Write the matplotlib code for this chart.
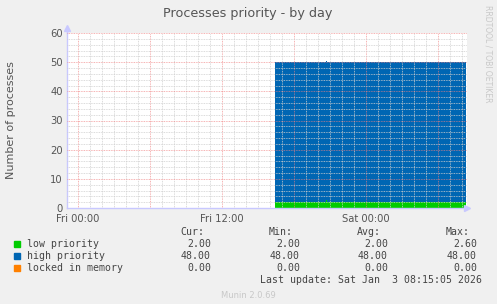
"""Munin: Processes priority - by day"""

import matplotlib
matplotlib.use("Agg")
import matplotlib.pyplot as plt
from matplotlib.patches import Rectangle
from matplotlib.ticker import MultipleLocator

W, H = 497, 304

# data (hours since Fri 00:00)
hours = [16.4, 20.7, 20.78, 32.35]
low_priority = [2.0, 2.6, 2.0, 2.0]
high_priority = [48.0, 47.7, 48.0, 48.0]
locked_memory = [0.0, 0.0, 0.0, 0.0]

series_names = ["low priority", "high priority", "locked in memory"]
series_colors = ["#00CC00", "#0066B3", "#FF8000"]
cur_vals = ["2.00", "48.00", "0.00"]
min_vals = ["2.00", "48.00", "0.00"]
avg_vals = ["2.00", "48.00", "0.00"]
max_vals = ["2.60", "48.00", "0.00"]

xtick_labels = ["Fri 00:00", "", "Fri 12:00", "", "Sat 00:00", ""]


def fx(px):
    return px / W


def fy(py):
    return 1 - py / H


fig = plt.figure(figsize=(W / 100, H / 100), dpi=100, facecolor="#F0F0F0")

# plot area in pixels: x 67..467, y 33..208
ax = fig.add_axes([fx(67), fy(208), 400 / W, 175 / H])
ax.set_facecolor("white")

stack2 = [a + b for a, b in zip(low_priority, high_priority)]
stack3 = [a + b for a, b in zip(stack2, locked_memory)]
ax.fill_between(hours, 0, low_priority, step="post", color=series_colors[0], lw=0)
ax.fill_between(hours, low_priority, stack2, step="post", color=series_colors[1], lw=0)
ax.fill_between(hours, stack2, stack3, step="post", color=series_colors[2], lw=0)

ax.set_xlim(-0.92, 32.42)
ax.set_ylim(0, 60)

ax.xaxis.set_major_locator(MultipleLocator(6))
ax.xaxis.set_minor_locator(MultipleLocator(1))
ax.yaxis.set_major_locator(MultipleLocator(10))
ax.yaxis.set_minor_locator(MultipleLocator(2))
ax.set_axisbelow(False)
ax.grid(which="minor", color="#CFCFCF", linestyle=(0, (1, 1)), lw=0.6)
ax.grid(which="major", color="#F08080", linestyle=(0, (1, 1)), lw=0.6, alpha=0.8)

ax.set_xticks(range(0, 33, 6))
ax.set_xticklabels(xtick_labels)
ax.tick_params(which="both", colors="#A0A0A0", labelcolor="#555555",
               labelsize=7.2, length=0)
ax.tick_params(axis="x", pad=4.5)
ax.tick_params(axis="y", pad=3)

for s in ["top", "right"]:
    ax.spines[s].set_visible(False)
for s in ["left", "bottom"]:
    ax.spines[s].set_color("#C8C8FF")
    ax.spines[s].set_linewidth(1)
ax.plot([0], [1.03], marker="^", ms=4, color="#C8C8FF",
        transform=ax.transAxes, clip_on=False)
ax.plot([1.0], [0], marker=">", ms=4, color="#C8C8FF",
        transform=ax.transAxes, clip_on=False)
ax.plot([0, 0], [1.0, 1.03], color="#C8C8FF", lw=1,
        transform=ax.transAxes, clip_on=False)

# texts
fig.text(fx(248), fy(13), "Processes priority - by day", ha="center", va="center",
         fontsize=9.2, color="#555555")
fig.text(fx(11), fy(120), "Number of processes", rotation=90, ha="center",
         va="center", fontsize=8, color="#555555")
fig.text(fx(488), fy(5), "RRDTOOL / TOBI OETIKER", rotation=270, ha="center",
         va="top", fontsize=5.5, color="#C8C8C8")

mono = dict(family="DejaVu Sans Mono", fontsize=7.1, color="#444444")
rows_y = [244, 256, 268]
headers = [("Cur:", 204), ("Min:", 293), ("Avg:", 381), ("Max:", 470)]
for label, xr in headers:
    fig.text(fx(xr), fy(232), label, ha="right", va="center", **mono)
cols = [(cur_vals, 211), (min_vals, 300), (avg_vals, 388), (max_vals, 477)]
for i, (name, color) in enumerate(zip(series_names, series_colors)):
    y = rows_y[i]
    fig.patches.append(Rectangle((fx(14), fy(y + 3)), 6 / W, 6 / H,
                                 transform=fig.transFigure, color=color))
    fig.text(fx(27), fy(y), name, ha="left", va="center", **mono)
    for vals, xr in cols:
        fig.text(fx(xr), fy(y), vals[i], ha="right", va="center", **mono)

fig.text(fx(482), fy(280), "Last update: Sat Jan  3 08:15:05 2026",
         ha="right", va="center", **mono)
fig.text(fx(248), fy(295), "Munin 2.0.69", ha="center", va="center",
         fontsize=6, color="#C8C8C8")

fig.savefig("out.png", dpi=100, facecolor=fig.get_facecolor())
